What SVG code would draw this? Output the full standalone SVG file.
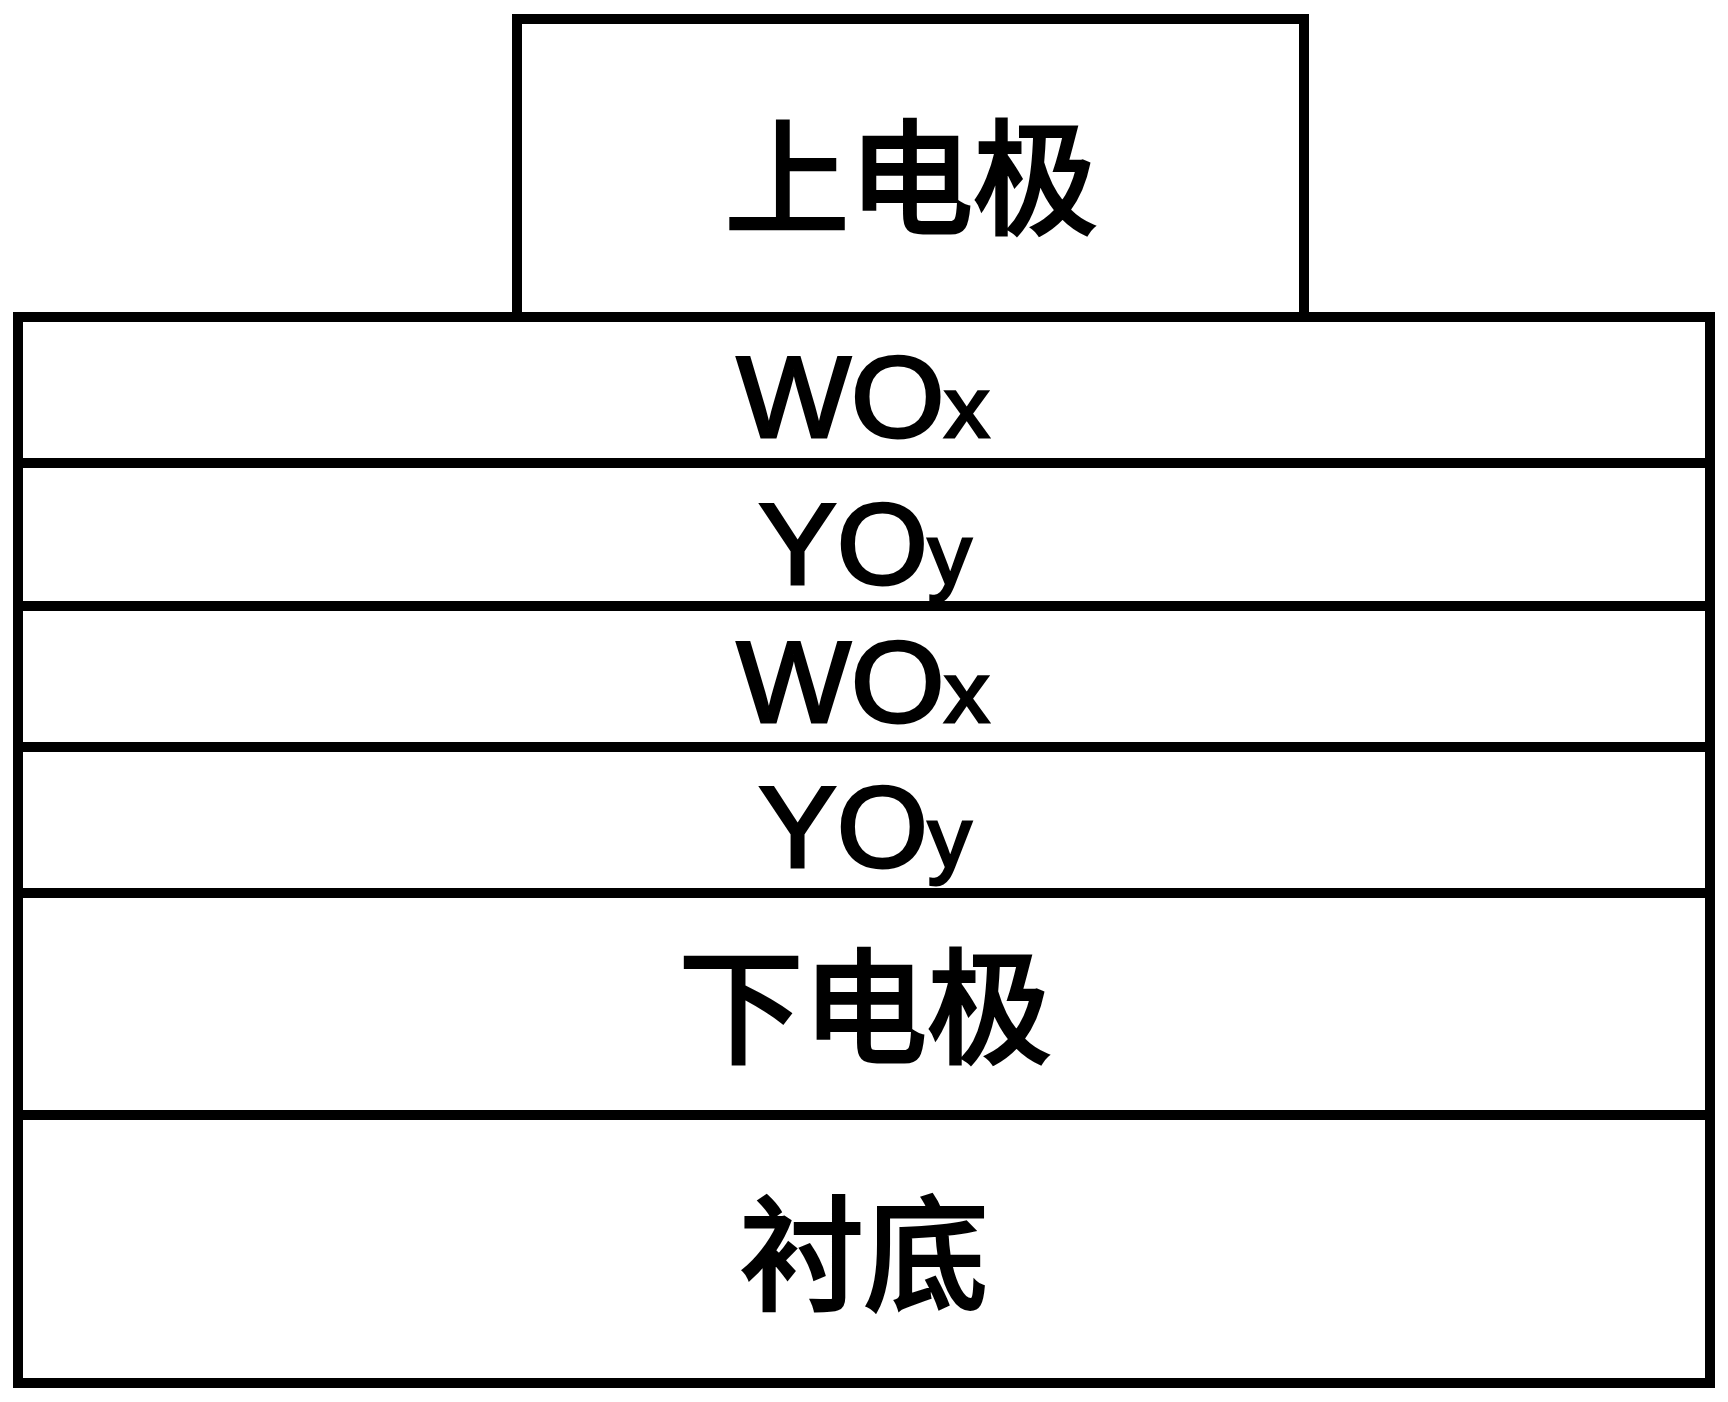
<svg xmlns="http://www.w3.org/2000/svg" width="1728" height="1402" viewBox="0 0 1728 1402">
<style>
.box{fill:#fff;stroke:#000;stroke-width:10}
.ln{stroke:#000;stroke-width:10;fill:none}
.cjk{font-family:"Noto Sans CJK SC","Noto Sans CJK JP",sans-serif;font-size:124px;fill:#000;stroke:#000;stroke-width:4;text-anchor:middle}
.lat{font-family:"Liberation Sans",Arial,sans-serif;font-size:115px;fill:#000;stroke:#000;stroke-width:3;text-anchor:middle}
.sub{font-size:85px}
</style>
<rect width="1728" height="1402" fill="#fff"/>
<g id="top-electrode">
<rect class="box" x="517" y="19" width="787" height="298"/>
<text class="cjk" x="911" y="224">上电极</text>
</g>
<g id="stack">
<rect class="box" x="18" y="317" width="1692" height="1066"/>
</g>
<g id="connectors">
<line class="ln" x1="18" y1="463" x2="1710" y2="463"/>
<line class="ln" x1="18" y1="606" x2="1710" y2="606"/>
<line class="ln" x1="18" y1="747" x2="1710" y2="747"/>
<line class="ln" x1="18" y1="893" x2="1710" y2="893"/>
<line class="ln" x1="18" y1="1115" x2="1710" y2="1115"/>
</g>
<g id="wox1"><text class="lat" transform="translate(863 437) scale(1.05 1)">WO<tspan class="sub">x</tspan></text></g>
<g id="yoy1"><text class="lat" transform="translate(865 584) scale(1.02 1)">YO<tspan class="sub">y</tspan></text></g>
<g id="wox2"><text class="lat" transform="translate(863 722) scale(1.05 1)">WO<tspan class="sub">x</tspan></text></g>
<g id="yoy2"><text class="lat" transform="translate(865 867) scale(1.02 1)">YO<tspan class="sub">y</tspan></text></g>
<g id="bottom-electrode"><text class="cjk" x="865" y="1053">下电极</text></g>
<g id="substrate"><text class="cjk" x="864" y="1300">衬底</text></g>
</svg>
